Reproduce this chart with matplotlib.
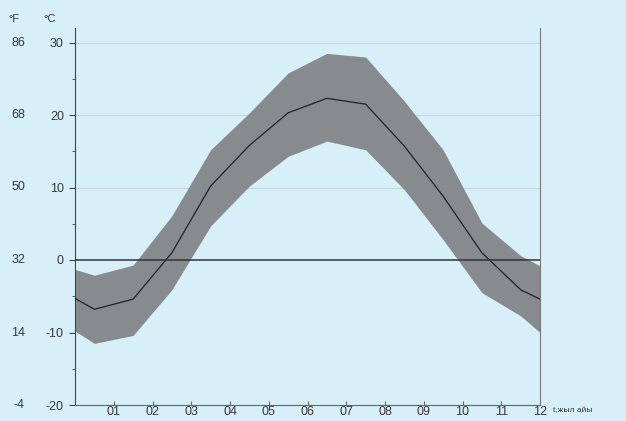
import numpy as np
import matplotlib
matplotlib.use("Agg")
import matplotlib.pyplot as plt
from matplotlib.ticker import MultipleLocator

# month positions (mid-month points, plus the wrap-around ends)
months_x = [0, 0.5, 1.5, 2.5, 3.5, 4.5, 5.5, 6.5, 7.5, 8.5, 9.5, 10.5, 11.5, 12]
t_mean = [-5.3, -6.8, -5.4, 1.0, 10.2, 15.8, 20.3, 22.3, 21.5, 15.7, 8.8, 1.0, -4.1, -5.4]
t_upper = [-1.3, -2.1, -0.7, 6.1, 15.2, 20.3, 25.8, 28.5, 28.0, 21.9, 15.2, 5.1, 0.6, -0.8]
t_lower = [-9.8, -11.5, -10.4, -4.1, 4.7, 10.2, 14.3, 16.4, 15.2, 9.7, 2.8, -4.5, -7.7, -10.0]

month_ticks = list(range(1, 13))
month_labels = ["01", "02", "03", "04", "05", "06", "07", "08", "09", "10", "11", "12"]
c_ticks = [-20, -10, 0, 10, 20, 30]
f_labels = ["-4", "14", "32", "50", "68", "86"]

bg = "#d6eff9"
txt = "#3a3a3a"
plt.rcParams["font.family"] = ["Liberation Sans", "DejaVu Sans"]
plt.rcParams["axes.unicode_minus"] = False

fig = plt.figure(figsize=(6.26, 4.21), dpi=100, facecolor=bg)
ax = fig.add_axes([75/626, 16/421, 465/626, 377/421], facecolor=bg)

for v in (10, 20, 30):
    ax.axhline(v, color="#c4d6de", lw=0.8, zorder=1)

ax.fill_between(months_x, t_lower, t_upper, color="#878b8d", lw=0, zorder=2)
ax.plot(months_x, t_mean, color="#222222", lw=0.9, zorder=3)
ax.axhline(0, color="#333333", lw=1.1, zorder=4)

ax.set_xlim(0, 12)
ax.set_ylim(-20, 32)
ax.set_xticks(month_ticks)
ax.set_xticklabels(month_labels)
ax.set_yticks(c_ticks)
ax.yaxis.set_minor_locator(MultipleLocator(5))

ax.spines["top"].set_visible(False)
ax.spines["left"].set_color("#444444")
ax.spines["bottom"].set_color("#666666")
ax.spines["right"].set_color("#777777")

ax.tick_params(axis="x", direction="in", length=3, colors="#666666",
               labelcolor=txt, labelsize=9, pad=1)
ax.tick_params(axis="y", which="major", direction="out", length=4,
               colors="#444444", labelcolor=txt, labelsize=9, pad=4)
ax.tick_params(axis="y", which="minor", direction="out", length=2, colors="#444444")

# Fahrenheit column
for c, f in zip(c_ticks, f_labels):
    ax.annotate(f, xy=(0, c), xycoords=("axes fraction", "data"),
                xytext=(-36, 0), textcoords="offset points",
                ha="right", va="center", fontsize=9, color=txt)

fig.text(8/626, 1 - 19/421, "°F", fontsize=8, color=txt, va="center")
fig.text(43/626, 1 - 19/421, "°C", fontsize=8, color=txt, va="center")
fig.text(553/626, 1 - 411/421, "t,жыл айы", fontsize=6, color=txt, va="center")

fig.savefig("out.png", dpi=100, facecolor=bg)
